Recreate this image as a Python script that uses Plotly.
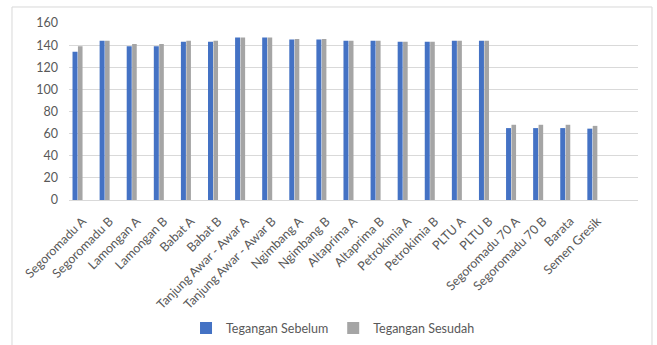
import plotly.graph_objects as go

categories = ["Segoromadu A", "Segoromadu B", "Lamongan A", "Lamongan B", "Babat A", "Babat B",
              "Tanjung Awar - Awar A", "Tanjung Awar - Awar B", "Ngimbang A", "Ngimbang B",
              "Altaprima A", "Altaprima B", "Petrokimia A", "Petrokimia B", "PLTU A", "PLTU B",
              "Segoromadu 70 A", "Segoromadu 70 B", "Barata", "Semen Gresik"]
sebelum = [134, 144, 139, 139, 143, 143, 147, 147, 145, 145, 144, 144, 143, 143, 144, 144, 65, 65, 65, 64.5]
sesudah = [139, 144, 141, 141, 144, 144, 147, 147, 145.5, 145.5, 144, 144, 143, 143, 144, 144, 68, 68, 68, 67]
y_ticks = [0, 20, 40, 60, 80, 100, 120, 140, 160]

FONT = "Lato"
TXT = "#595959"
GRID = "#D9D9D9"

fig = go.Figure()
fig.add_trace(go.Bar(x=categories, y=sebelum, name="Tegangan Sebelum",
                     marker=dict(color="#4472C4", line=dict(width=0)),
                     width=0.185, offset=-0.37))
fig.add_trace(go.Bar(x=categories, y=sesudah, name="Tegangan Sesudah",
                     marker=dict(color="#A5A5A5", line=dict(width=0)),
                     width=0.17, offset=-0.17))

fig.update_layout(
    width=657, height=345,
    margin=dict(l=69, r=19, t=23, b=145, autoexpand=False),
    paper_bgcolor="white", plot_bgcolor="white",
    font=dict(family=FONT, size=12, color=TXT),
    showlegend=True,
    legend=dict(orientation="h", x=0.464, xanchor="center", y=-0.64, yanchor="top",
                font=dict(family=FONT, size=12.5, color=TXT), traceorder="normal",
                itemwidth=30),
    bargap=0.3,
)
fig.update_xaxes(type="category", range=[-0.5, 20.5], tickangle=-45, automargin=False,
                 showgrid=False, showline=True, linecolor=GRID, linewidth=1,
                 ticks="", ticklabelstandoff=8,
                 tickfont=dict(family=FONT, size=12.5, color=TXT))
fig.update_yaxes(range=[0, 160], tickvals=y_ticks, showgrid=True, gridcolor=GRID,
                 gridwidth=1, zeroline=False, showline=False, ticks="", automargin=False,
                 ticklabelstandoff=10,
                 tickfont=dict(family=FONT, size=12.5, color=TXT))

fig.add_shape(type="rect", xref="paper", yref="paper",
              x0=-0.1002, x1=1.0246, y0=-0.9, y1=1.0904,
              line=dict(color=GRID, width=1), fillcolor="rgba(0,0,0,0)", layer="below")

fig.write_html("out.html")
